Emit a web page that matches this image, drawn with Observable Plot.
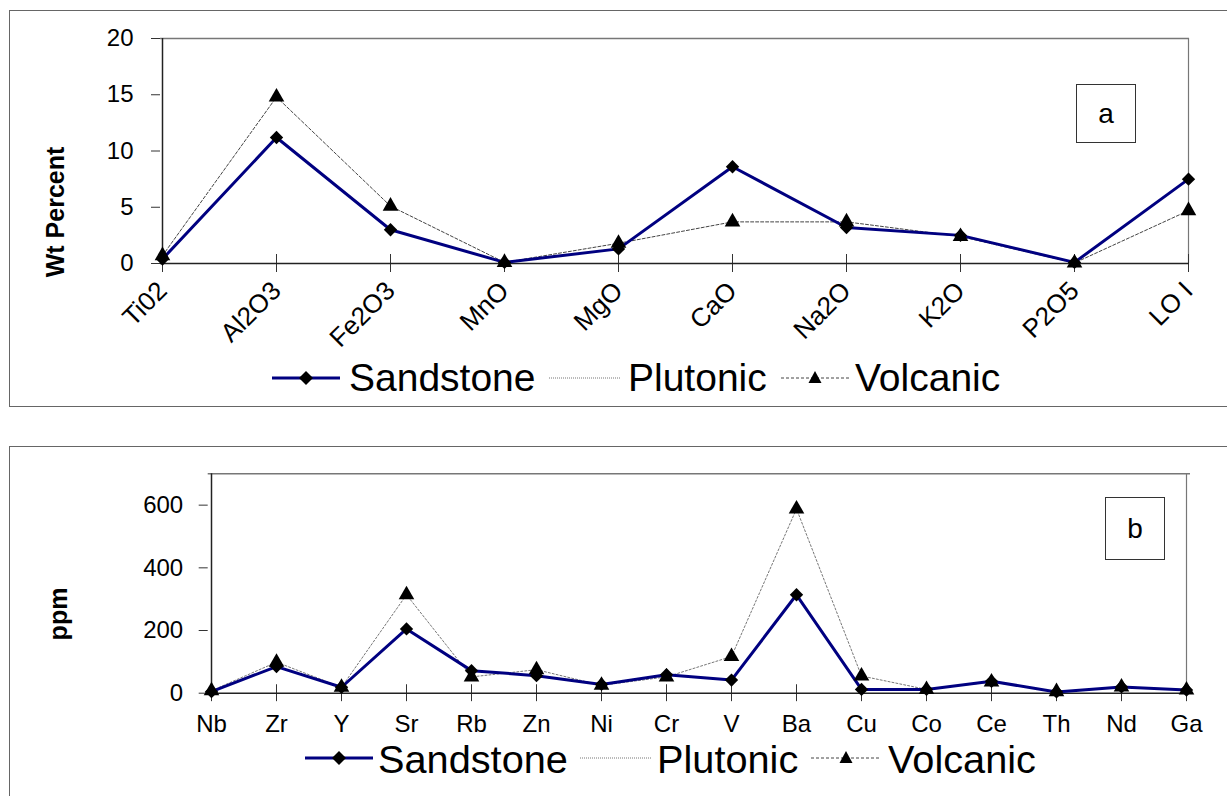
<!DOCTYPE html>
<html>
<head>
<meta charset="utf-8">
<script src="https://cdn.jsdelivr.net/npm/d3@7"></script>
<script src="https://cdn.jsdelivr.net/npm/@observablehq/plot@0.6"></script>
<style>
  html, body { margin: 0; padding: 0; background: #fff; overflow: hidden; }
  body { width: 1227px; height: 796px; position: relative; font-family: "Liberation Sans", Arial, sans-serif; }
  .panel { position: absolute; border: 1.5px solid #666; box-sizing: border-box; }
  .abs { position: absolute; }
  #top svg text, #bot svg text { font-size: 24px; }
  #top g[aria-label="x-axis tick label"] text { font-size: 26px; }
  .tag { position: absolute; border: 1.5px solid #333; box-sizing: border-box; font-size: 28px; display: flex; align-items: center; justify-content: center; background: #fff; }
  .ylab { position: absolute; font-weight: bold; font-size: 25px; white-space: nowrap; transform: translate(-50%, -50%) rotate(-90deg); }
  .leg { position: absolute; line-height: 0.75; white-space: nowrap; color: #000; transform-origin: 0 50%; }
  .sw { position: absolute; }
</style>
</head>
<body>
<div class="panel" style="left:9px;top:10px;width:1300px;height:397px;"></div>
<div class="panel" style="left:9px;top:446px;width:1300px;height:400px;"></div>
<div id="top" class="abs" style="left:0;top:0;"></div>
<div id="bot" class="abs" style="left:0;top:440px;"></div>
<div class="ylab" style="left:55px;top:212px;">Wt Percent</div>
<div class="ylab" style="left:58px;top:614px;">ppm</div>
<div class="tag" style="left:1076px;top:84px;width:60px;height:59px;">a</div>
<div class="tag" style="left:1105px;top:497px;width:60px;height:63px;">b</div>
<div id="legTop"></div>
<div id="legBot"></div>
<script>
// ---- Data ----
const majorOxides = ["Ti02", "Al2O3", "Fe2O3", "MnO", "MgO", "CaO", "Na2O", "K2O", "P2O5", "LO I"];
const sandstoneMajor = [0.4, 11.2, 3.0, 0.1, 1.3, 8.6, 3.2, 2.5, 0.1, 7.5];
const volcanicMajor = [0.7, 14.8, 5.1, 0.1, 1.8, 3.7, 3.7, 2.4, 0.05, 4.7];
const majorTicks = [0, 5, 10, 15, 20];

const traceElements = ["Nb", "Zr", "Y", "Sr", "Rb", "Zn", "Ni", "Cr", "V", "Ba", "Cu", "Co", "Ce", "Th", "Nd", "Ga"];
const sandstoneTrace = [5, 85, 19, 205, 72, 56, 28, 59, 42, 314, 12, 12, 38, 4, 20, 10];
const volcanicTrace = [8, 99, 19, 314, 52, 75, 25, 52, 117, 588, 55, 12, 36, 5, 20, 10];
const traceTicks = [0, 200, 400, 600];

const seriesNames = ["Sandstone", "Plutonic", "Volcanic"];

const FONT = "Liberation Sans, Arial, sans-serif";
const NAVY = "#000080";

function rows(cats, vals) { return cats.map((c, i) => ({cat: c, v: vals[i]})); }

function chart(cfg) {
  const sand = rows(cfg.cats, cfg.sand);
  const volc = rows(cfg.cats, cfg.volc);
  const last = cfg.cats[cfg.cats.length - 1];
  return Plot.plot({
    width: 1227,
    height: cfg.height,
    marginLeft: cfg.ml,
    marginRight: cfg.mr,
    marginTop: cfg.mt,
    marginBottom: cfg.mb,
    style: {fontFamily: FONT, fontSize: "24px", background: "transparent", overflow: "visible", color: "#000"},
    x: {type: "point", domain: cfg.cats, padding: 0, label: null},
    y: {domain: cfg.ydomain, label: null},
    marks: [
      Plot.ruleY([cfg.ydomain[1]], {stroke: "#777", strokeWidth: 1.5}),
      Plot.ruleX([last], {y1: cfg.ydomain[0], y2: cfg.ydomain[1], stroke: "#777", strokeWidth: 1.2}),
      Plot.ruleX(cfg.cats, {x: d => d, y1: -cfg.tk, y2: cfg.tk, stroke: "#333", strokeWidth: 1}),
      Plot.ruleX([cfg.cats[0]], {y1: cfg.ydomain[0], y2: cfg.ydomain[1], stroke: "#222", strokeWidth: 1.5}),
      Plot.ruleY([0], {stroke: "#222", strokeWidth: 1.5}),
      Plot.axisY({ticks: cfg.yticks, tickSize: 9, tickPadding: cfg.ypad, label: null, fontSize: 24, stroke: "#333"}),
      cfg.rotate
        ? Plot.axisX({tickRotate: -45, tickSize: 0, tickPadding: 23, label: null, fontSize: 26})
        : Plot.axisX({tickSize: 0, tickPadding: 22, label: null, fontSize: 24}),
      Plot.line(volc, {x: "cat", y: "v", stroke: cfg.vcol, strokeWidth: 1, strokeDasharray: cfg.vdash}),
      Plot.line(sand, {x: "cat", y: "v", stroke: NAVY, strokeWidth: 3}),
      Plot.dot(sand, {x: "cat", y: "v", symbol: "diamond2", r: 6, fill: "#000", stroke: "none"}),
      Plot.dot(volc, {x: "cat", y: "v", symbol: "triangle", r: 5.8, fill: "#000", stroke: "none"})
    ]
  });
}

document.getElementById("top").append(chart({
  cats: majorOxides, sand: sandstoneMajor, volc: volcanicMajor,
  height: 345, ml: 160, mr: 38, mt: 38, mb: 82,
  ydomain: [0, 20], yticks: majorTicks, tk: 0.8, ypad: 18, rotate: true,
  vcol: "#444", vdash: "3,2"
}));

document.getElementById("bot").append(chart({
  cats: traceElements, sand: sandstoneTrace, volc: volcanicTrace,
  height: 300, ml: 207.7, mr: 37, mt: 33.3, mb: 47.3,
  ydomain: [0, 700], yticks: traceTicks, tk: 27, ypad: 16, rotate: false,
  vcol: "#777", vdash: "2,2"
}));

// ---- Legends ----
function swatch(kind, x, y, w) {
  const ns = "http://www.w3.org/2000/svg";
  const svg = document.createElementNS(ns, "svg");
  svg.setAttribute("width", w); svg.setAttribute("height", 20);
  svg.setAttribute("class", "sw");
  svg.style.left = x + "px"; svg.style.top = (y - 10) + "px";
  const line = document.createElementNS(ns, "line");
  line.setAttribute("x1", 0); line.setAttribute("x2", w);
  line.setAttribute("y1", 10); line.setAttribute("y2", 10);
  if (kind === "Sandstone") { line.setAttribute("stroke", NAVY); line.setAttribute("stroke-width", 3); }
  else if (kind === "Plutonic") { line.setAttribute("stroke", "#777"); line.setAttribute("stroke-width", 1); line.setAttribute("stroke-dasharray", "1,1"); }
  else { line.setAttribute("stroke", "#444"); line.setAttribute("stroke-width", 1); line.setAttribute("stroke-dasharray", "3,2"); }
  svg.append(line);
  const c = w / 2;
  if (kind === "Sandstone") {
    const p = document.createElementNS(ns, "path");
    p.setAttribute("d", `M${c},3 L${c+7},10 L${c},17 L${c-7},10 Z`);
    svg.append(p);
  } else if (kind === "Volcanic") {
    const p = document.createElementNS(ns, "path");
    p.setAttribute("d", `M${c},3 L${c+6.5},15 L${c-6.5},15 Z`);
    svg.append(p);
  }
  return svg;
}
// place text so that its baseline sits at `base`
function legend(id, y, base, size, sx, items) {
  const host = document.getElementById(id);
  items.forEach(it => {
    host.append(swatch(it.name, it.sx, y, it.sw));
    const t = document.createElement("div");
    t.className = "leg";
    t.textContent = it.name;
    t.style.fontSize = size + "px";
    t.style.left = it.tx + "px";
    t.style.top = (base - 0.7215 * size) + "px";
    if (sx !== 1) t.style.transform = `scaleX(${sx})`;
    host.append(t);
  });
}
legend("legTop", 378, 391, 39, 1, [
  {name: seriesNames[0], sx: 272, sw: 68, tx: 349},
  {name: seriesNames[1], sx: 549, sw: 72, tx: 628},
  {name: seriesNames[2], sx: 781, sw: 68, tx: 855}
]);
legend("legBot", 758, 773, 38, 1.045, [
  {name: seriesNames[0], sx: 305, sw: 68, tx: 378},
  {name: seriesNames[1], sx: 580, sw: 72, tx: 657},
  {name: seriesNames[2], sx: 811, sw: 70, tx: 888}
]);
</script>
</body>
</html>
